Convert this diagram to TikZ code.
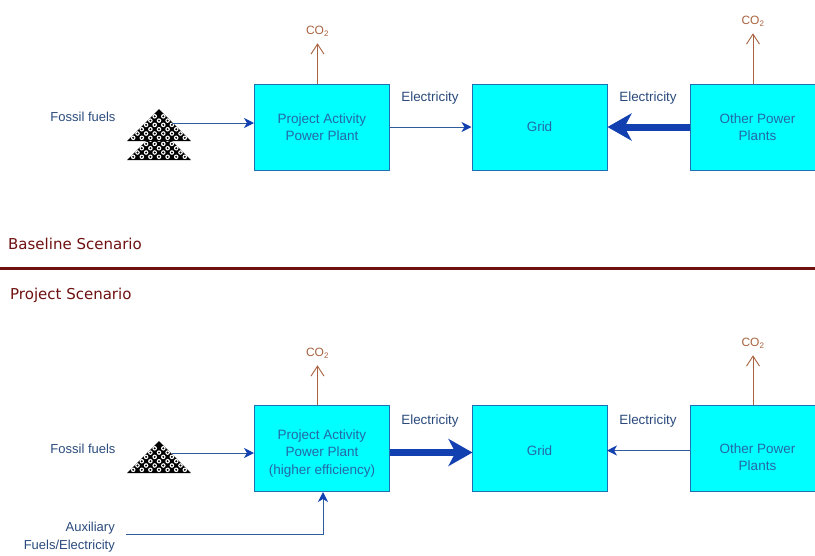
\documentclass[tikz,border=0pt]{standalone}
\usepackage{fontspec}
\setmainfont{Liberation Sans}
\newfontfamily\headfont{DejaVu Sans}
\usepackage{xcolor}
\usetikzlibrary{arrows.meta}
\definecolor{boxfill}{HTML}{00FFFF}
\definecolor{boxline}{HTML}{1F6FB5}
\definecolor{flow}{HTML}{1240B0}
\definecolor{flowline}{HTML}{2F5C9C}
\definecolor{label}{HTML}{2A4A7C}
\definecolor{boxtext}{HTML}{2468A8}
\definecolor{gas}{HTML}{A8623F}
\definecolor{maroon}{HTML}{6E1010}
\newcommand{\drop}[1]{\rule{0pt}{#1pt}}
\tikzset{
  plant/.style={draw=boxline, fill=boxfill, line width=1pt, minimum width=135pt, minimum height=86pt, inner sep=0pt, text=boxtext, font=\fontsize{13.5}{17.5}\selectfont, align=center},
  lab/.style={text=label, font=\fontsize{13}{17.5}\selectfont, inner sep=0pt, align=right},
  labc/.style={lab, font=\fontsize{13.4}{17}\selectfont, align=center},
  co/.style={text=gas, font=\fontsize{12}{14}\selectfont, inner sep=0pt},
  head/.style={text=maroon, font=\headfont\fontsize{15}{16}\selectfont, inner sep=0pt, anchor=west},
  thin/.style={draw=flowline, line width=1pt, -{Stealth[length=10pt,width=10pt,inset=3pt,color=flow]}},
  thick/.style={draw=flow, line width=7pt, -{Stealth[length=24pt,width=27pt,inset=7pt]}},
  vent/.style={draw=gas, line width=0.9pt, shorten >=6.5pt, -{Straight Barb[length=10pt,width=13pt,line width=0.9pt]}},
  pile/.pic={
    \fill[black] (0,0) -- (32,32) -- (-32,32) -- cycle;
    \foreach \r in {1,...,6}{
      \foreach \i in {0,...,\r}{
        \fill[white] ({(\i-\r/2)*8.6},{3+\r*4.3}) circle (2.3);
        \fill[black] ({(\i-\r/2)*8.6},{3+\r*4.3}) circle (1.1);
      }
    }
  },
}

\begin{document}
\begin{tikzpicture}[x=1pt,y=-1pt]
  \useasboundingbox (0,0) rectangle (815,555);

  % baseline scenario
  \node[plant] (plantA) at (322,127) {Project Activity\\Power Plant};
  \node[plant] (gridA) at (539.5,127) {Grid};
  \node[plant] (otherA) at (757.5,127) {Other Power\\Plants};
  \node[lab] (fuelA) at (83,117) {Fossil fuels};
  \node[labc] (elecA) at (430,98.5) {Electricity};
  \node[labc] (elecB) at (648,98.5) {Electricity};
  \node[co] (coA) at (317.5,31.5) {CO\textsubscript{2}};
  \node[co] (coB) at (753,21.5) {CO\textsubscript{2}};
  \pic at (159,128) {pile};
  \pic at (159,109) {pile};
  \coordinate (pileA) at (172,123);

  \draw[thin] (pileA) -- (pileA -| plantA.west);
  \draw[thin] (plantA.east) -- (gridA.west);
  \draw[thick] (otherA.west) -- (gridA.east);
  \draw[vent] (plantA.north -| coA) -- (coA.south);
  \draw[vent] (otherA.north -| coB) -- (coB.south);

  % divider
  \node[head] (base) at (8,244) {Baseline Scenario};
  \node[head] (proj) at (10,295) {Project Scenario};
  \coordinate (divL) at (0,268);
  \coordinate (divR) at (815,268);
  \draw[maroon, line width=3pt] (divL) -- (divR);

  % project scenario
  \node[plant] (plantB) at (322,448.5) {\drop{19}Project Activity\\Power Plant\\(higher efficiency)};
  \node[plant] (gridB) at (539.5,448.5) {\drop{15}Grid};
  \node[plant] (otherB) at (757.5,448.5) {\drop{27}Other Power\\Plants};
  \node[lab] (fuelB) at (83,449) {Fossil fuels};
  \node[lab, anchor=north east] (aux) at (115,522) {Auxiliary\\Fuels/Electricity};
  \node[labc] (elecC) at (430,421) {Electricity};
  \node[labc] (elecD) at (648,421) {Electricity};
  \node[co] (coC) at (317.5,353.5) {CO\textsubscript{2}};
  \node[co] (coD) at (753,343.5) {CO\textsubscript{2}};
  \pic at (159,441) {pile};
  \coordinate (pileB) at (172,453);
  \coordinate (auxS) at (126,534);

  \draw[thin] (pileB) -- (pileB -| plantB.west);
  \draw[thick] (plantB.east) ++(0,4) -- ++(82.5,0);
  \draw[thin] (otherB.west) ++(0,2) -- ++(-82.5,0);
  \draw[thin] (auxS) -| (plantB.south -| 323,0);
  \draw[vent] (plantB.north -| coC) -- (coC.south);
  \draw[vent] (otherB.north -| coD) -- (coD.south);
\end{tikzpicture}
\end{document}
